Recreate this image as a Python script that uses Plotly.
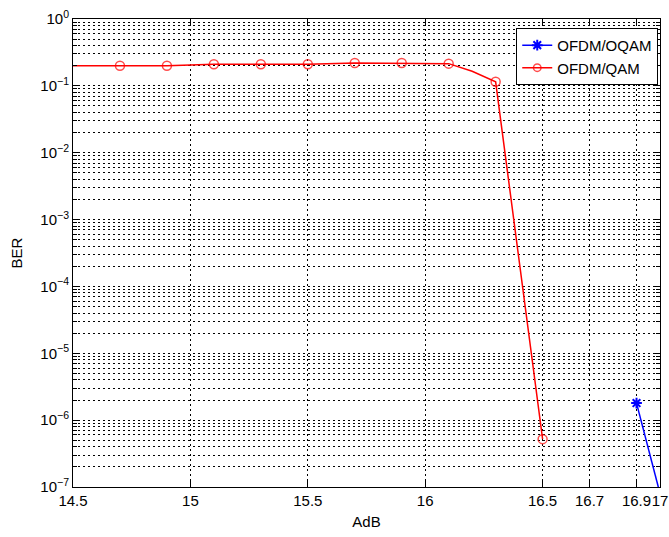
import plotly.graph_objects as go

# ---- data ----
qam_x = [14.5, 14.7, 14.9, 15.1, 15.3, 15.5, 15.7, 15.9, 16.1, 16.2, 16.3, 16.5]
qam_y = [0.2, 0.2, 0.2, 0.21, 0.21, 0.21, 0.22, 0.22, 0.215, 0.165, 0.115, 5.2e-7]
qam_marked = [False, True, True, True, True, True, True, True, True, False, True, True]

oqam_x = [16.9, 17.0]
oqam_y = [1.8e-6, 8e-8]

x_ticks = [14.5, 15, 15.5, 16, 16.5, 16.7, 16.9, 17]
x_ticktext = ["14.5", "15", "15.5", "16", "16.5", "16.7", "16.9", "17"]
decades = list(range(-7, 1))

FONT = "Liberation Sans, Arial, sans-serif"
GRID_DASH = "2px,3px"

fig = go.Figure()

# OFDM/OQAM (blue, asterisk)
fig.add_trace(go.Scatter(
    x=oqam_x, y=oqam_y, mode="lines+markers", name="OFDM/OQAM",
    line=dict(color="#0000ff", width=1.5),
    marker=dict(symbol="asterisk-open", size=9, color="#0000ff",
                line=dict(color="#0000ff", width=2)),
))

# OFDM/QAM (red, circles)
qam_sizes = [9 if m else 0 for m in qam_marked]
fig.add_trace(go.Scatter(
    x=qam_x, y=qam_y, mode="lines+markers", name="OFDM/QAM",
    line=dict(color="#ff0000", width=1.5),
    marker=dict(symbol="circle-open", size=qam_sizes, color="#ff0000",
                line=dict(color="#ff0000", width=1.5)),
))

y_major = [10.0 ** d for d in decades]
y_text = ["10<sup>\u2212%d</sup>" % (-d) if d < 0 else "10<sup>0</sup>" for d in decades]
y_minor = [m * 10.0 ** d for d in decades[:-1] for m in range(2, 10)]

fig.update_layout(
    width=669, height=537,
    margin=dict(l=73, r=9, t=19, b=50, autoexpand=False),
    paper_bgcolor="white", plot_bgcolor="white",
    font=dict(family=FONT, size=15, color="black"),
    showlegend=True,
    legend=dict(
        x=0.997, y=0.981, xanchor="right", yanchor="top",
        bgcolor="white", bordercolor="black", borderwidth=1,
        font=dict(family=FONT, size=15, color="black"),
        tracegroupgap=0,
    ),
    xaxis=dict(
        range=[14.5, 17], tickmode="array", tickvals=x_ticks, ticktext=x_ticktext,
        tickangle=0, ticklabeloverflow="allow", automargin=False,
        showline=True, linecolor="black", linewidth=1, mirror="allticks",
        ticks="inside", ticklen=6, tickcolor="black",
        showgrid=True, gridcolor="black", griddash=GRID_DASH, gridwidth=1,
        zeroline=False,
        title=dict(text="AdB", font=dict(family=FONT, size=15), standoff=8),
        tickfont=dict(family=FONT, size=15),
    ),
    yaxis=dict(
        type="log", range=[-7, 0], tickmode="array", tickvals=y_major, ticktext=y_text,
        automargin=False,
        showline=True, linecolor="black", linewidth=1, mirror="allticks",
        ticks="inside", ticklen=6, tickcolor="black",
        showgrid=True, gridcolor="black", griddash=GRID_DASH, gridwidth=1,
        zeroline=False,
        minor=dict(tickmode="array", tickvals=y_minor, ticks="inside", ticklen=4,
                   tickcolor="black", showgrid=True, gridcolor="black",
                   griddash=GRID_DASH, gridwidth=1),
        title=dict(text="BER", font=dict(family=FONT, size=15), standoff=14),
        tickfont=dict(family=FONT, size=15),
    ),
)

fig.write_html("out.html")
